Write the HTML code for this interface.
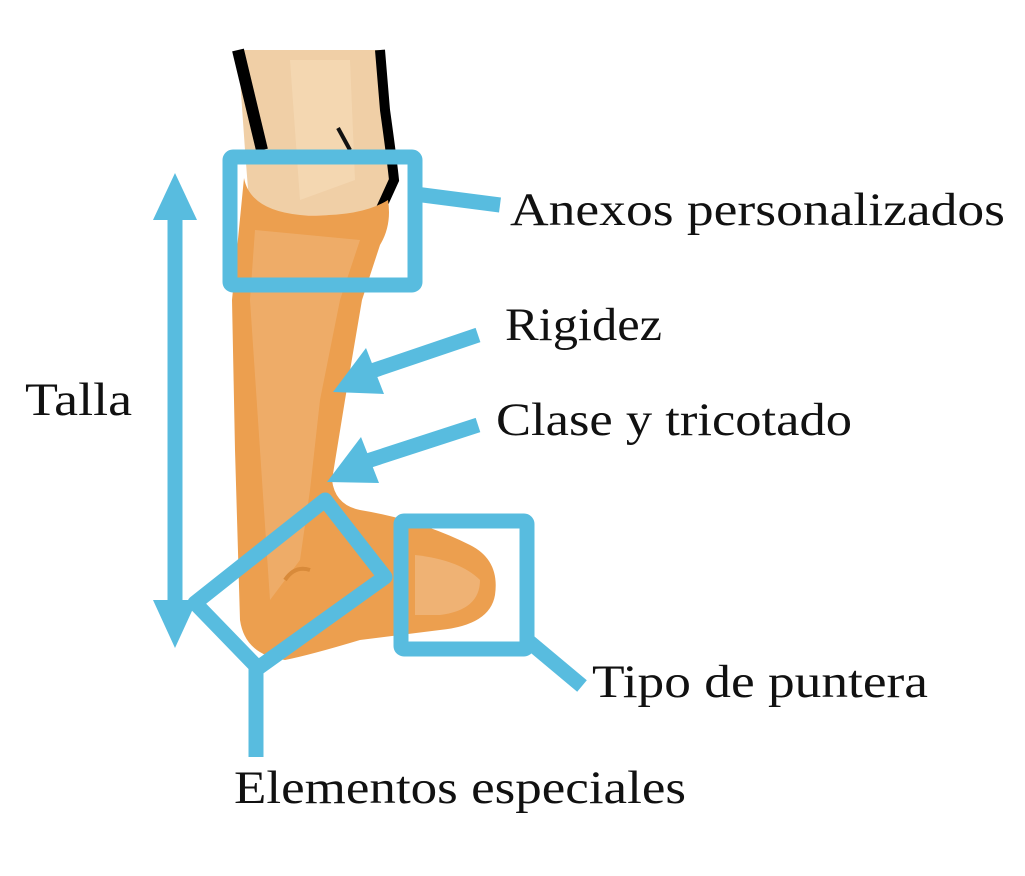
<!DOCTYPE html>
<html><head><meta charset="utf-8"><style>
html,body{margin:0;padding:0;background:#fff;}
svg{display:block}
text{font-family:"Liberation Serif",serif;font-size:47px;fill:#111;}
</style></head><body>
<svg width="1025" height="876" viewBox="0 0 1025 876">
<!-- thigh/skin -->
<path d="M238,50 L380,50 L385,110 L392,180 L380,215 L250,215 L245,150 Z" fill="#f0cfa6"/>
<path d="M290,60 L350,60 L355,180 L300,200 Z" fill="#f5dab7" opacity="0.7"/>
<path d="M238,50 L262,150" stroke="#000" stroke-width="12" fill="none"/>
<path d="M380,50 L385,110 Q392,160 394,180 L378,215" stroke="#000" stroke-width="10" fill="none"/>
<path d="M338,128 L350,150" stroke="#111" stroke-width="4"/>
<!-- orthosis -->
<path d="M244,178 Q250,210 300,215 Q360,218 388,200 Q392,225 380,245 L362,300 L345,400 L332,480 Q335,505 360,510 Q420,520 470,545 Q500,560 495,595 Q490,625 440,630 L360,640 Q310,655 285,660 Q245,655 240,620 L235,450 L232,300 Z" fill="#ec9f4f"/>
<path d="M255,230 L360,240 L340,300 L320,400 L310,490 L300,560 L270,600 L260,450 L250,300 Z" fill="#efb274" opacity="0.7"/>
<path d="M415,555 Q460,560 480,580 Q480,610 440,615 L415,615 Z" fill="#efb274"/>
<path d="M285,580 Q295,565 310,570" stroke="#d88a3a" stroke-width="4" fill="none"/>
<!-- blue -->
<g stroke="#58bcdf" stroke-width="15" fill="none" stroke-linejoin="round">
<rect x="230" y="157" width="185" height="128" rx="3"/>
<path d="M415,194 L500,205"/>
<path d="M175,195 L175,630"/>
<path d="M478,335 L360,375"/>
<path d="M478,425 L355,465"/>
<path d="M325,500 L385,577 L258,668 L195,603 Z"/>
<path d="M256,668 L256,757"/>
<rect x="401" y="521" width="126" height="128" rx="3"/>
<path d="M527,640 L582,686"/>
</g>
<g fill="#58bcdf">
<polygon points="175,173 153,220 197,220"/>
<polygon points="175,648 153,600 197,600"/>
<polygon points="333,392 366,348 384,394"/>
<polygon points="327,482 361,437 379,483"/>
</g>
<text x="510" y="225" textLength="495" lengthAdjust="spacingAndGlyphs">Anexos personalizados</text>
<text x="505" y="340" textLength="157" lengthAdjust="spacingAndGlyphs">Rigidez</text>
<text x="496" y="435" textLength="356" lengthAdjust="spacingAndGlyphs">Clase y tricotado</text>
<text x="25" y="415" textLength="107" lengthAdjust="spacingAndGlyphs">Talla</text>
<text x="592" y="697" textLength="336" lengthAdjust="spacingAndGlyphs">Tipo de puntera</text>
<text x="234" y="803" textLength="452" lengthAdjust="spacingAndGlyphs">Elementos especiales</text>
</svg>
</body></html>
